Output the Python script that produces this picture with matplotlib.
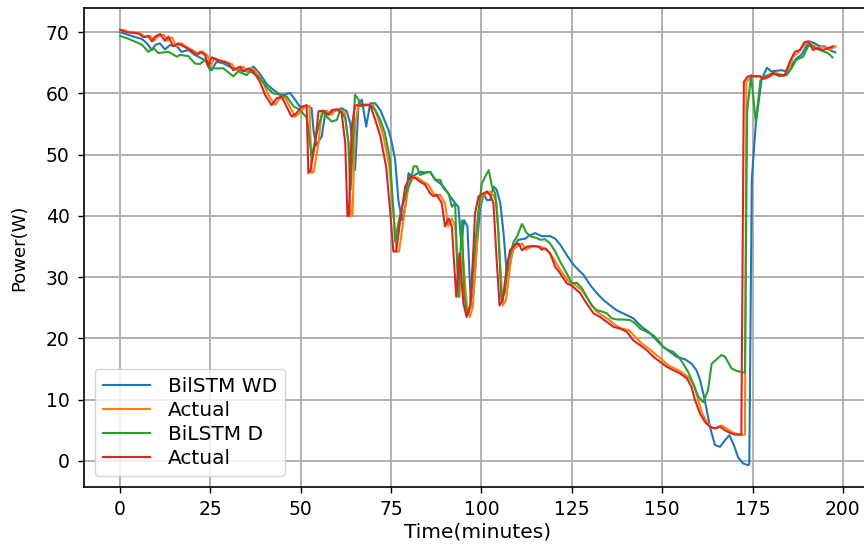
import matplotlib
matplotlib.use("Agg")
import matplotlib.pyplot as plt

# ---- data ----
wd_x = [0, 3.7, 6, 7.4, 8.8, 9.7, 11, 12.4, 13.8, 15.7, 17, 18.9, 20.7, 22.6, 24.4, 25.3, 26.7, 28.6, 31.3, 33.2,
        35, 36.9, 38.7, 40.6, 42.4, 44.3, 45.6, 47, 48.4, 49.8, 51.7, 53, 53.5, 54.2, 55.8, 56.7, 58, 60, 61.3, 62.7,
        63.7, 64.6, 65, 66, 66.9, 68.1, 69.2, 70.6, 72, 73.1, 74.3, 75.2, 76.1, 77, 78, 78.9, 79.8, 80.7, 81.6, 83,
        84.4, 85.8, 87.2, 88.6, 89.9, 91.3, 92.7, 93.6, 94.4, 95.2, 96.1, 97, 97.8, 98.7, 99.6, 100.6, 101.5, 102.4,
        103.3, 104.2, 105.2, 106.1, 107, 107.9, 108.9, 110.2, 112.1, 113.5, 114.9, 116.7, 119, 120.4, 121.8, 123.6,
        125.5, 126.8, 128.2, 130.1, 131.9, 133.7, 135.6, 137.4, 140.2, 142, 144.3, 146.2, 148, 150.3, 152.2, 154,
        156.3, 158.1, 159.5, 160.5, 161.8, 163.2, 164.6, 166, 167.4, 168.6, 169.7, 171, 172.4, 173.8, 174.1, 174.8,
        175.9, 177.5, 179, 180.2, 181.6, 183, 184.4, 185.8, 187.1, 188.5, 189.9, 190.8, 192.2, 193.6, 195, 196.3,
        197.9]
wd_y = [70.0, 69.3, 68.9, 68.2, 67.1, 67.9, 68.2, 67.2, 67.9, 67.7, 66.8, 67.1, 66.3, 65.7, 65.2, 63.8, 65.2, 64.9,
        64.1, 63.8, 63.6, 64.4, 63.2, 61.5, 60.6, 59.8, 59.8, 60.1, 59.0, 57.8, 58.0, 57.6, 54.1, 51.5, 53.0, 56.5,
        56.8, 57.3, 57.6, 57.1, 55.1, 49.2, 47.5, 58.4, 59.0, 54.6, 58.4, 58.4, 57.3, 55.7, 54.0, 51.9, 49.2, 42.6,
        39.3, 41.5, 47.0, 46.4, 46.7, 47.2, 47.1, 47.2, 45.9, 45.3, 44.5, 43.2, 42.1, 41.5, 35.5, 39.3, 38.3, 26.3,
        27.4, 35.0, 41.0, 43.7, 42.6, 42.6, 44.8, 44.3, 42.1, 37.2, 30.6, 32.2, 35.0, 36.1, 36.3, 36.9, 37.2, 36.7,
        36.7, 36.3, 35.3, 33.6, 32.0, 31.2, 30.4, 28.7, 27.4, 26.3, 25.4, 24.6, 23.8, 23.3, 21.9, 21.1, 20.0, 18.6,
        17.8, 17.0, 16.6, 15.9, 14.8, 13.2, 9.9, 5.6, 2.6, 2.3, 3.4, 4.2, 2.8, 0.6, -0.4, -0.7, -0.5, 46.0, 55.0,
        62.3, 64.2, 63.6, 63.7, 63.8, 63.6, 64.6, 65.7, 66.3, 67.7, 68.5, 68.2, 67.7, 67.7, 67.1, 66.7]

act1_x = [0, 0.9, 2.7, 4.6, 5.6, 6.9, 8.3, 9.4, 10.4, 12.0, 13.2, 14.3, 15.6, 17.0, 18.4, 20.3, 21.8, 22.8, 24.2,
          25.1, 26.1, 27.6, 29.5, 30.9, 32.2, 34.1, 35.0, 36.4, 37.8, 39.6, 41.0, 42.8, 44.2, 45.6, 47.0, 48.4, 49.7,
          51.1, 52.4, 53.0, 53.6, 54.9, 55.8, 57.2, 58.6, 59.5, 60.9, 62.2, 63.2, 63.8, 64.3, 65.0, 65.9, 67.4, 68.9,
          70.1, 71.5, 72.9, 74.5, 75.6, 76.5, 77.2, 78.4, 79.8, 81.2, 82.5, 83.9, 85.3, 86.7, 87.6, 88.5, 89.9, 90.8,
          91.8, 92.7, 93.9, 94.8, 95.9, 96.8, 97.6, 98.7, 99.1, 100.1, 101.5, 102.4, 103.3, 104.2, 105.1, 105.9,
          106.8, 107.9, 108.6, 109.8, 111.2, 112.3, 114.0, 116.3, 118.1, 119.9, 121.8, 124.1, 126.0, 127.8, 129.6,
          131.5, 133.3, 135.2, 137.0, 138.8, 140.7, 142.5, 144.3, 146.2, 148.0, 149.9, 151.7, 153.5, 155.4, 157.2,
          158.6, 159.7, 160.9, 162.3, 163.7, 165.1, 166.4, 167.8, 169.6, 171.5, 172.9, 173.3, 174.7, 177.5, 178.4,
          180.2, 181.6, 183.5, 184.8, 186.2, 187.6, 189.0, 190.4, 191.7, 193.1, 194.5, 196.3, 198.0]
act1_y = [70.2, 70.4, 70.0, 69.9, 69.8, 69.2, 69.4, 68.6, 69.3, 69.6, 68.6, 69.2, 67.7, 68.2, 67.6, 67.0, 66.4, 66.9,
          66.2, 64.5, 65.8, 65.4, 65.1, 64.8, 63.8, 64.4, 63.6, 64.1, 63.5, 61.8, 59.8, 58.1, 59.2, 59.4, 57.8, 56.2,
          56.8, 57.8, 58.0, 47.0, 47.2, 51.8, 57.0, 57.2, 56.5, 57.3, 57.4, 56.8, 51.9, 40.0, 40.0, 54.6, 58.1, 58.0,
          58.2, 58.1, 55.7, 53.0, 48.1, 41.0, 34.2, 34.2, 39.3, 44.8, 46.4, 46.2, 45.6, 45.1, 43.7, 43.2, 43.5, 42.1,
          38.3, 39.6, 38.3, 26.8, 33.9, 25.7, 23.5, 25.2, 35.0, 40.4, 43.2, 43.7, 44.0, 43.4, 42.1, 32.8, 25.4, 26.3,
          31.7, 34.4, 35.0, 35.5, 34.5, 35.0, 35.0, 34.5, 33.1, 31.2, 29.3, 28.7, 27.9, 26.3, 24.6, 23.8, 23.1, 22.2,
          21.6, 21.4, 20.3, 19.2, 18.4, 17.5, 16.6, 15.6, 15.1, 14.5, 13.7, 12.6, 10.5, 8.0, 6.4, 5.4, 5.4, 5.8, 5.3,
          4.6, 4.3, 4.3, 61.9, 62.8, 62.8, 62.4, 62.9, 63.3, 63.0, 63.3, 66.0, 66.6, 67.7, 68.5, 67.9, 67.4, 67.7,
          67.1, 67.7]

d_x = [0, 2, 4, 6, 7.8, 9.2, 10.6, 13.4, 15.7, 16.6, 18.9, 20.7, 22.1, 23.5, 24.9, 25.8, 28.6, 31.3, 32.7, 35, 35.9,
       36.9, 38.7, 40.6, 42.4, 44.3, 46.1, 48, 49.8, 51.7, 53, 54.4, 55.4, 56.3, 57.2, 58.6, 60, 60.9, 62.3, 63.2,
       63.8, 64.4, 65, 66, 66.9, 67.8, 69.2, 70.6, 72, 73.3, 74.7, 75.6, 76.1, 77, 78, 79.3, 80.4, 81.2, 82.1, 83,
       84.4, 85.8, 87.2, 88.6, 89.5, 90.9, 91.8, 92.7, 93.6, 94.6, 95.2, 95.9, 96.9, 98.2, 99.2, 100.1, 101, 102,
       102.9, 103.8, 104.7, 105.5, 106.4, 107.5, 108.9, 109.8, 111.2, 112.5, 113.9, 115.3, 116.3, 117.6, 119, 120.4,
       121.8, 123.6, 125, 126.4, 127.8, 129.1, 130.5, 131.9, 133.3, 134.7, 136, 137.4, 139.3, 141.1, 142.5, 143.9,
       145.7, 147.6, 148.9, 150.3, 151.7, 153.1, 154.5, 155.8, 157.2, 158.6, 160, 161.4, 162.7, 163.7, 165.1, 166.4,
       167.4, 169.2, 170.6, 172.9, 173.5, 174.6, 175.9, 177.2, 178.4, 180.7, 182.5, 184.4, 185.8, 187.1, 189, 190.4,
       191.3, 192.2, 193.6, 195, 195.9, 197.1]
d_y = [69.4, 69.0, 68.5, 68.0, 66.8, 67.4, 66.6, 66.8, 66.0, 66.3, 66.1, 64.9, 64.8, 65.5, 63.8, 64.1, 64.1, 62.8,
       63.6, 63.0, 63.6, 63.3, 62.5, 61.0, 60.0, 59.8, 59.5, 57.9, 57.3, 56.0, 49.7, 53.5, 55.7, 57.1, 56.2, 55.4,
       55.7, 57.3, 56.0, 51.9, 44.3, 52.0, 59.8, 59.0, 57.9, 58.1, 58.1, 57.3, 55.7, 53.5, 49.2, 41.0, 35.8, 38.8,
       41.5, 44.0, 45.6, 48.1, 48.1, 46.7, 47.0, 47.2, 45.9, 45.9, 44.5, 43.7, 41.5, 42.1, 26.8, 39.3, 27.4, 24.1,
       25.2, 35.0, 41.0, 45.3, 46.4, 47.5, 44.8, 43.7, 37.2, 26.3, 27.4, 32.8, 35.8, 36.6, 38.7, 37.2, 36.6, 36.4,
       36.1, 36.2, 35.5, 34.2, 32.5, 30.6, 29.0, 29.1, 28.2, 26.8, 25.4, 24.6, 24.4, 24.1, 23.3, 23.1, 23.1, 23.0,
       22.5, 21.6, 21.1, 20.5, 19.7, 18.6, 18.1, 17.8, 17.0, 15.9, 14.5, 12.6, 10.5, 9.6, 11.6, 15.9, 16.6, 17.3,
       17.0, 15.1, 14.7, 14.4, 57.0, 63.0, 55.3, 62.2, 62.8, 63.3, 62.8, 63.0, 64.1, 65.5, 66.0, 67.7, 67.9, 67.4,
       67.1, 66.8, 66.6, 65.9]

act2_x = [0, 1.8, 3.7, 5.1, 6.5, 7.8, 8.8, 9.7, 11.1, 12.4, 13.4, 14.7, 16.1, 17.5, 19.4, 21.2, 22.1, 23.5, 24.4,
          25.3, 26.7, 28.6, 30, 31.3, 33.2, 34.1, 35.5, 36.9, 38.7, 40.1, 41.9, 43.3, 44.7, 46.1, 47.5, 48.8, 50.2,
          51.6, 52.1, 52.6, 54.0, 54.9, 56.3, 57.7, 58.6, 60, 61.3, 62.3, 62.9, 63.3, 64.1, 65, 66.5, 68, 69.2, 70.6,
          72, 73.6, 74.7, 75.6, 76.4, 77.5, 78.9, 80.3, 81.6, 83, 84.4, 85.8, 86.7, 87.6, 89, 89.9, 90.9, 91.8, 93,
          93.9, 95, 95.9, 96.9, 97.8, 98.2, 99.2, 100.6, 101.5, 102.4, 103.3, 104.2, 105, 105.9, 107, 107.9, 109.3,
          110.3, 111.2, 112.6, 114.4, 115.8, 116.7, 117.6, 119, 120.4, 121.8, 123.6, 125, 127.3, 129.1, 131, 132.8,
          134.7, 136.5, 138.4, 140.2, 142, 143.9, 145.7, 147.6, 149.4, 151.2, 153.1, 154.9, 156.8, 158.1, 159.1,
          160.5, 161.8, 163.2, 164.6, 166, 167.4, 168.7, 170.1, 171.9, 172.6, 173.7, 177, 177.9, 179.3, 180.7, 182.1,
          183.9, 185.3, 186.7, 188.1, 189.4, 190.4, 191.7, 193.1, 194.5, 195.9, 197.3]
act2_y = [70.4, 70.0, 69.9, 69.8, 69.2, 69.4, 68.5, 69.3, 69.7, 68.6, 69.3, 67.7, 68.2, 67.7, 67.1, 66.3, 66.8, 66.3,
          64.4, 65.9, 65.5, 65.2, 64.9, 63.8, 64.4, 63.6, 64.1, 63.6, 61.9, 59.8, 58.1, 59.2, 59.5, 57.8, 56.2, 56.8,
          57.8, 58.1, 47.0, 47.3, 51.9, 57.1, 57.2, 56.5, 57.3, 57.4, 56.8, 51.9, 40.0, 40.0, 54.6, 58.1, 58.0, 58.2,
          58.1, 55.7, 53.0, 48.1, 41.0, 34.2, 34.2, 39.3, 44.8, 46.4, 46.2, 45.6, 45.1, 43.7, 43.2, 43.5, 42.1, 38.3,
          39.6, 38.3, 26.8, 33.9, 25.7, 23.5, 25.2, 35.0, 40.4, 43.2, 43.7, 44.0, 43.4, 42.1, 32.8, 25.4, 26.3, 31.7,
          34.4, 35.3, 35.5, 34.4, 35.0, 35.1, 35.0, 34.5, 34.7, 33.9, 31.7, 30.6, 29.0, 28.6, 27.4, 25.7, 24.1, 23.5,
          22.7, 21.9, 21.6, 21.1, 19.7, 18.9, 18.1, 17.0, 16.2, 15.4, 14.8, 14.3, 13.5, 12.1, 9.9, 7.7, 6.4, 5.6, 5.3,
          5.6, 5.0, 4.6, 4.3, 4.3, 61.9, 62.8, 62.8, 62.4, 62.7, 63.4, 63.0, 63.0, 65.2, 66.8, 67.1, 68.4, 68.5, 67.1,
          67.4, 67.1, 67.4, 67.7]

labels = ["BilSTM WD", "Actual", "BiLSTM D", "Actual"]
colors = ["#1f77b4", "#ff7f0e", "#2ca02c", "#d62728"]
x_ticks = [0, 25, 50, 75, 100, 125, 150, 175, 200]
y_ticks = [0, 10, 20, 30, 40, 50, 60, 70]

fig = plt.figure(figsize=(8.64, 5.45), dpi=100)
ax = fig.add_axes([0.0976, 0.1064, 0.911, 0.8789])

series = [(wd_x, wd_y), (act1_x, act1_y), (d_x, d_y), (act2_x, act2_y)]
for (xs, ys), lab, c in zip(series, labels, colors):
    ax.plot(xs, ys, color=c, linewidth=1.5, label=lab)

ax.set_xticks(x_ticks)
ax.set_yticks(y_ticks)
ax.tick_params(labelsize=13.5, length=4.5, width=1.0)
ax.tick_params(axis="y", pad=6)
ax.tick_params(axis="x", pad=4.5)
ax.grid(True, color="#b0b0b0", linewidth=1.4)
for s in ax.spines.values():
    s.set_linewidth(1.2)
ax.set_xlabel("Time(minutes)", fontsize=14.5, labelpad=3)
ax.set_ylabel("Power(W)", fontsize=13, labelpad=13)
ax.legend(loc="lower left", fontsize=14.5, handlelength=2.3, handletextpad=0.9,
          labelspacing=0.25, borderpad=0.4, borderaxespad=0.55)

fig.savefig("out.png", dpi=100)
